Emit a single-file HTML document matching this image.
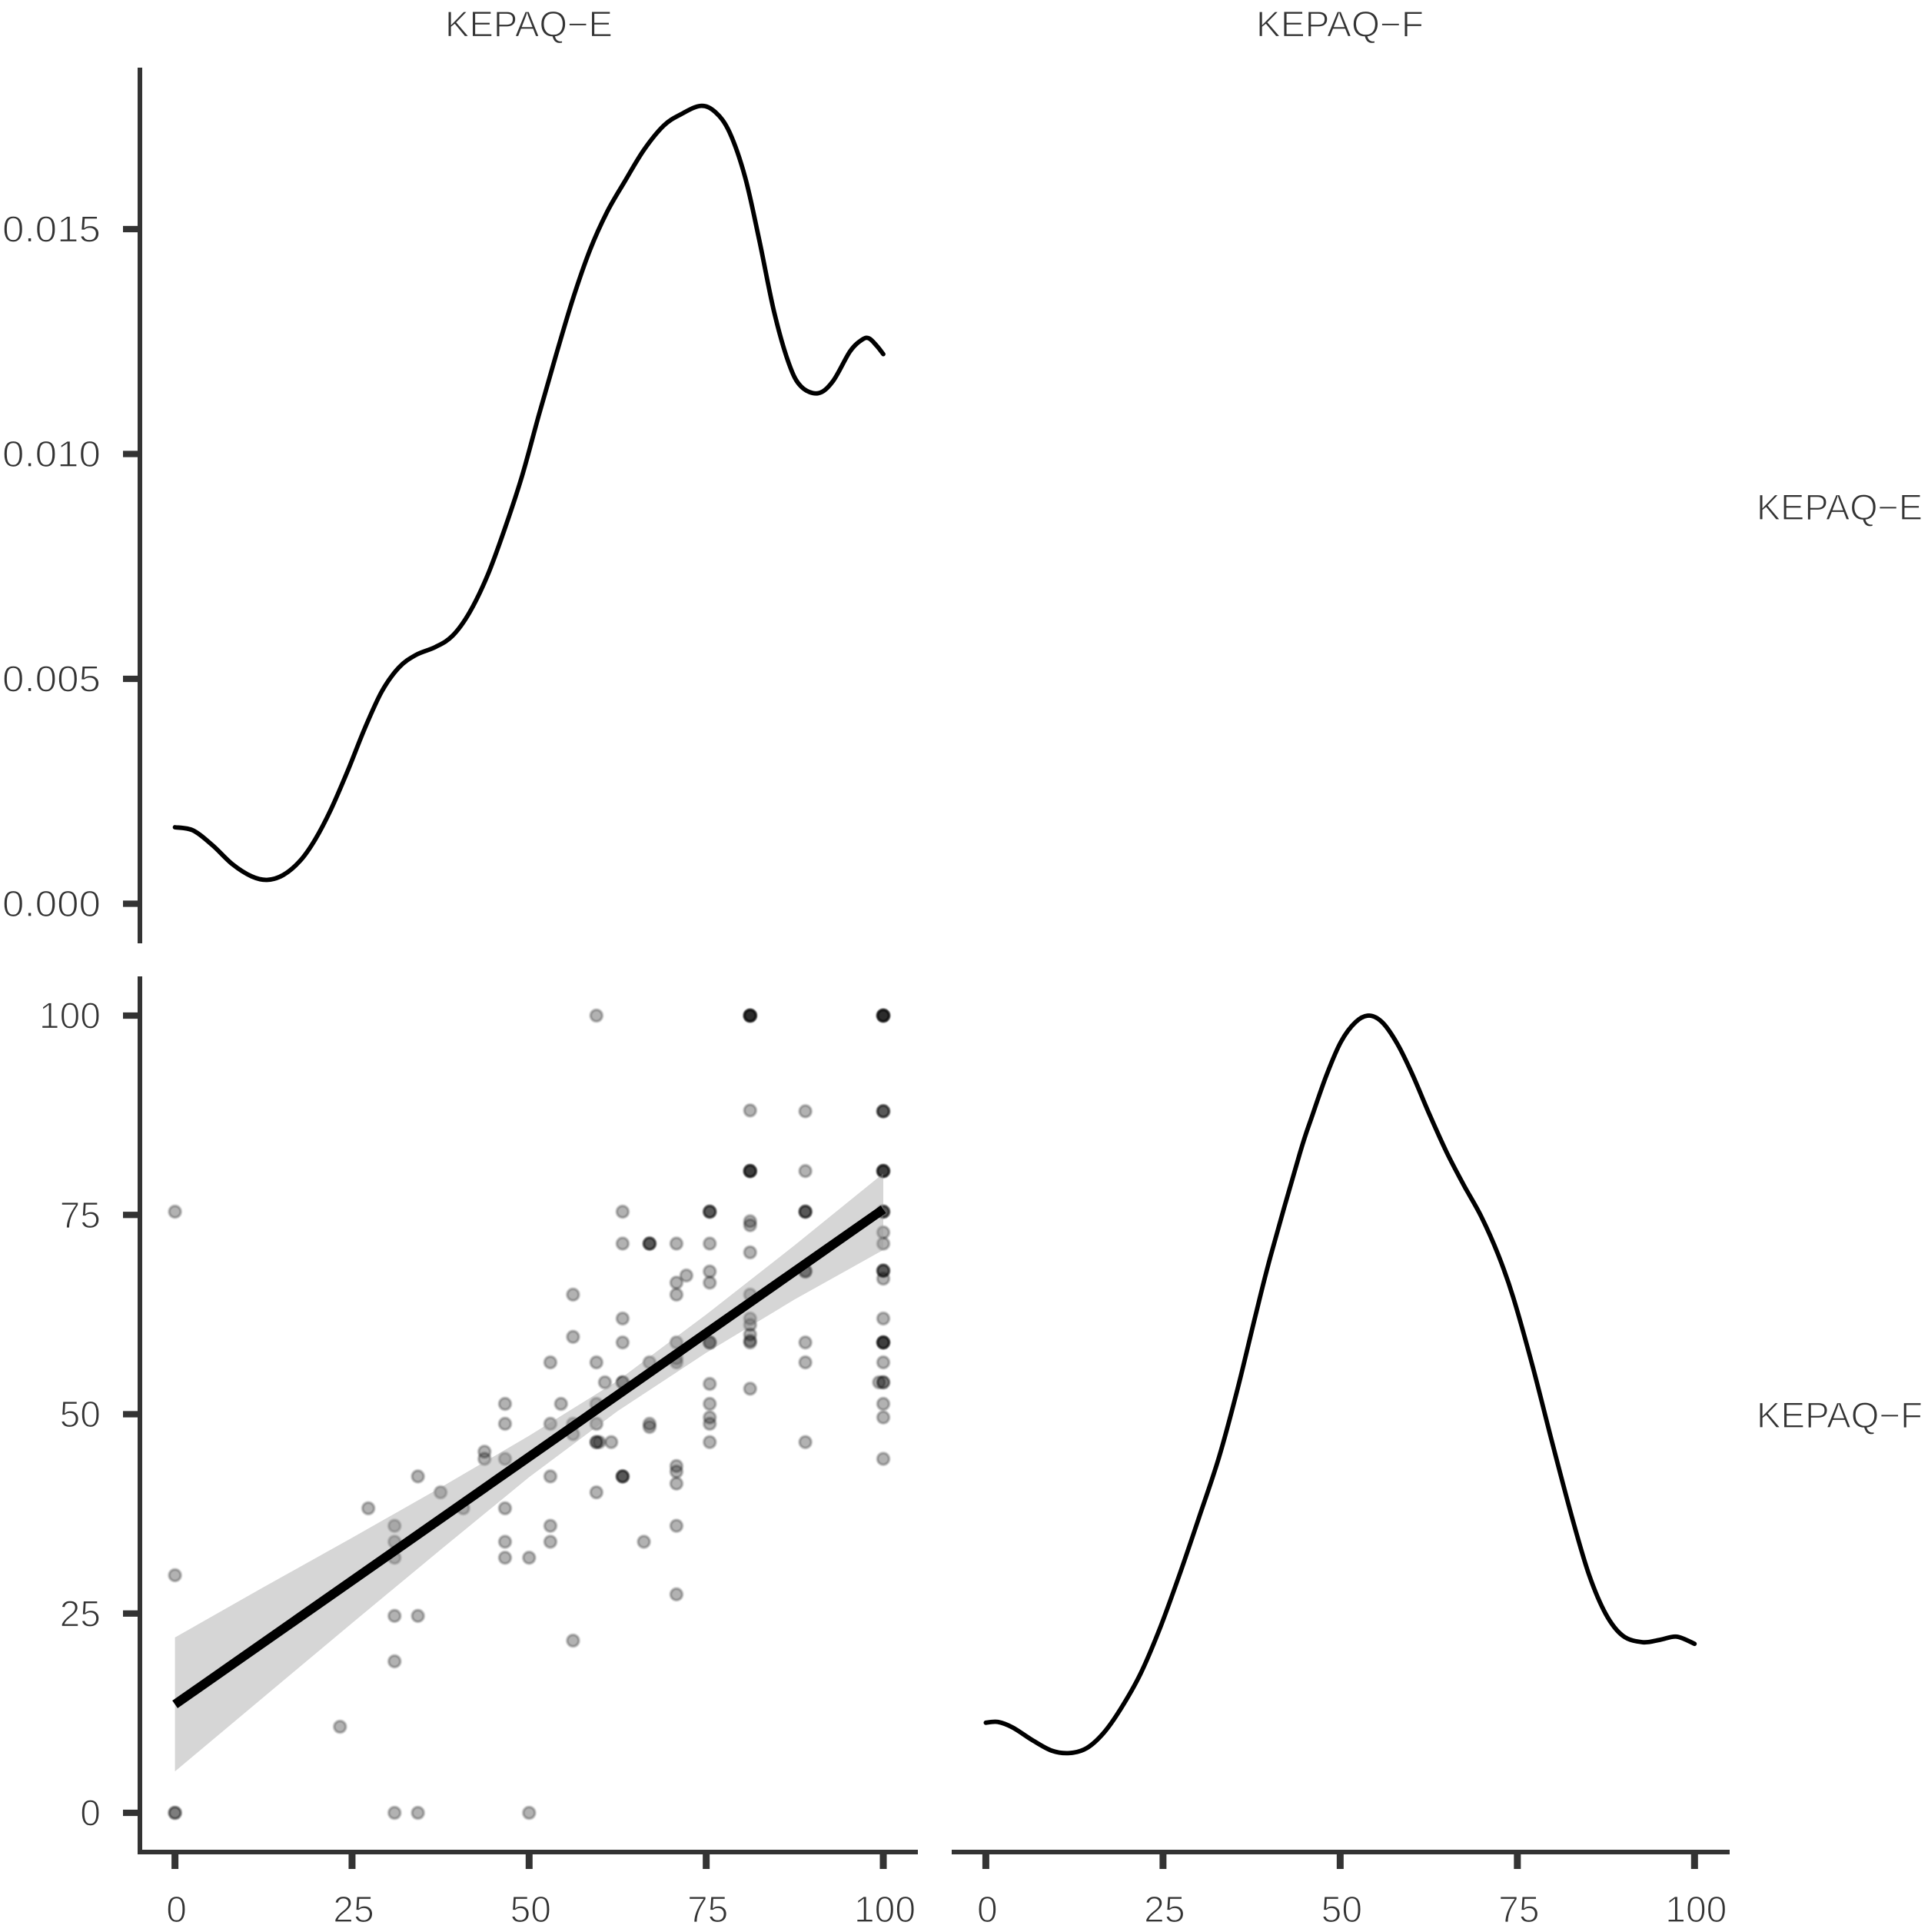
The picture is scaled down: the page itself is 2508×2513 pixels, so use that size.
<!DOCTYPE html>
<html>
<head>
<meta charset="utf-8">
<title>KEPAQ pair plot</title>
<style>
html,body{margin:0;padding:0;background:#fff;}
svg{display:block;}
text{font-family:"Liberation Sans",sans-serif;fill:#333333;stroke:#ffffff;stroke-width:1.3px;}
</style>
</head>
<body>
<svg id="chart" width="2508" height="2513" viewBox="0 0 2508 2513" xmlns="http://www.w3.org/2000/svg">
  <defs><filter id="soft" x="-5%" y="-5%" width="110%" height="110%"><feGaussianBlur stdDeviation="0.7"/></filter></defs>
  <g id="ribbonUnder" filter="url(#soft)"></g>
  <g id="ribbonLayer"></g>
  <g id="densityLayer"></g>
  <g id="axisLayer"></g>
  <g id="labelLayer"></g>
</svg>
<script>
const xTickValues = [0, 25, 50, 75, 100];
const xTickLabels = ["0", "25", "50", "75", "100"];
const densityTickValues = [0, 0.005, 0.010, 0.015];
const densityTickLabels = ["0.000", "0.005", "0.010", "0.015"];
const scatterTickValues = [0, 25, 50, 75, 100];
const scatterTickLabels = ["0", "25", "50", "75", "100"];
const stripLabels = ["KEPAQ\u2212E", "KEPAQ\u2212F"];

const densityEX = [0,2.55,5.3,8.1,10.8,13,15.3,17.7,19.8,22,24.4,26.8,29.2,31.6,34,36.8,39.2,41.6,44.1,46.5,49,51.4,53.8,56.2,58.6,61,63.5,66.2,69,71.4,74.2,76.3,78.3,80.5,82.5,84.6,86.7,88.4,90.8,92.9,95.3,97,98,99.1,100];
const densityEY = [.00170,.00163,.00130,.00088,.00061,.00053,.00064,.00096,.00143,.00209,.00296,.00390,.00472,.00525,.00553,.00571,.00596,.00648,.00729,.00831,.00951,.01088,.01220,.01346,.01454,.01538,.01606,.01676,.01730,.01755,.01774,.01760,.01715,.01615,.01475,.01315,.01200,.01150,.01135,.01162,.01228,.01254,.01257,.01240,.01222];

const densityFX = [0,1.7,3.8,6.6,9.3,11.8,14.2,16.6,19,21.8,24.5,27.3,30.1,32.9,35.5,38,40.2,44.3,46,48.1,50.1,52.2,54.1,56,58.1,60.2,62.6,65,67.4,69.9,72.3,74.4,77.1,79.9,82.7,85.1,87.5,89.9,92.7,95.1,97.5,100];
const densityFY = [11.3,11.4,10.7,9.1,7.8,7.5,8.1,10,13,17.4,23,29.8,37.1,44.6,53.1,62.2,69.9,82.7,87.3,92.6,96.7,99.2,100,99.1,96.4,92.6,87.6,82.9,78.8,74.8,70,64.7,56.2,46.5,37.1,29.9,24.9,22.2,21.4,21.7,22.1,21.2];

const fitX = [0, 100];
const fitY = [13.6, 75.7];
const bandX = [0,12.5,25,37.5,50,62.5,75,87.5,100];
const bandUpper = [22,28.3,34.5,40.8,47.3,54.2,62.5,71.2,80.2];
const bandLower = [5.2,14.5,23.8,33,42.1,50.4,57.7,64.4,70.6];

const pointsE = [0,0,0,0,23.3,27.3,31,31,31,31,31,31,34.3,34.3,34.3,37.5,40.7,43.7,43.7,46.6,46.6,46.6,46.6,46.6,46.6,50,50,53,53,53,53,53,54.5,56.2,56.2,56.2,56.2,56.2,59.5,59.5,59.5,59.5,59.5,59.5,59.5,59.9,60.7,61.6,63.2,63.2,63.2,63.2,63.2,63.2,63.2,63.2,63.2,66.2,67,67,67,67,67,67,70.8,70.8,70.8,70.8,70.8,70.8,70.8,70.8,70.8,70.8,70.8,72.2,75.5,75.5,75.5,75.5,75.5,75.5,75.5,75.5,75.5,75.5,75.5,75.5,75.5,75.5,81.2,81.2,81.2,81.2,81.2,81.2,81.2,81.2,81.2,81.2,81.2,81.2,81.2,81.2,81.2,81.2,81.2,81.2,81.2,81.2,89,89,89,89,89,89,89,89,89,89,89,100,100,100,100,100,100,100,100,100,100,100,100,100,100,100,100,100,100,100,100,100,100,100,100,100,100,99.4,100,100,100,100,100,100,100,100];
const pointsF = [75.4,29.8,0,0,10.8,38.2,36,34,32,24.7,19,0,42.2,24.7,0,40.2,38.2,45.3,44.4,51.3,48.8,44.4,38.2,34,32,32,0,56.5,48.8,42.2,36,34,51.3,65,59.7,48.8,47.5,21.6,100,56.5,51.3,48.8,46.5,46.5,40.2,46.5,54,46.5,75.4,71.4,62,59,54,54,42.2,42.2,42.2,34,71.4,71.4,71.4,56.5,48.8,48.4,71.4,66.5,65,59,56.5,57,43.5,42.8,41.3,36,27.4,67.4,75.4,75.4,75.4,71.4,67.9,66.5,59,59,59,53.8,51.3,49.6,48.8,46.5,100,100,100,100,100,88.1,80.5,80.5,80.5,80.5,74.2,73.7,70.3,65,62,61.2,60,59,59.2,53.2,88,80.5,75.4,75.4,75.4,67.9,67.9,59,56.5,46.5,68,100,100,100,100,100,88,88,88,80.5,80.5,80.5,80.5,75.4,75.4,75.4,72.8,71.4,68,68,68,67,62,59,59,59,56.5,54,54,54,51.3,49.6,44.4,59];

const NS = "http://www.w3.org/2000/svg";
function xE(v){ return 227.6 + v * 9.214; }
function xF(v){ return 1282.4 + v * 9.219; }
function yDensity(v){ return 1175.5 - v * 58500; }
function yScatter(v){ return 2358 - v * 10.37; }

function make(tag, parent, attrs){
  const el = document.createElementNS(NS, tag);
  for (const k in attrs) el.setAttribute(k, attrs[k]);
  parent.appendChild(el);
  return el;
}
function smoothPath(pts){
  let d = "M" + pts[0][0].toFixed(2) + " " + pts[0][1].toFixed(2);
  for (let i = 0; i < pts.length - 1; i++){
    const p0 = pts[Math.max(i - 1, 0)], p1 = pts[i], p2 = pts[i + 1], p3 = pts[Math.min(i + 2, pts.length - 1)];
    const c1x = p1[0] + (p2[0] - p0[0]) / 6, c1y = p1[1] + (p2[1] - p0[1]) / 6;
    const c2x = p2[0] - (p3[0] - p1[0]) / 6, c2y = p2[1] - (p3[1] - p1[1]) / 6;
    d += "C" + c1x.toFixed(2) + " " + c1y.toFixed(2) + " " + c2x.toFixed(2) + " " + c2y.toFixed(2) + " " + p2[0].toFixed(2) + " " + p2[1].toFixed(2);
  }
  return d;
}

const pointLayer = document.getElementById("ribbonUnder");
const ribbonLayer = document.getElementById("ribbonLayer");
const densityLayer = document.getElementById("densityLayer");
const axisLayer = document.getElementById("axisLayer");
const labelLayer = document.getElementById("labelLayer");

/* scatter points */
const pointCount = Math.min(pointsE.length, pointsF.length);
for (let i = 0; i < pointCount; i++){
  const c = make("circle", pointLayer, {cx: xE(pointsE[i]).toFixed(2), cy: yScatter(pointsF[i]).toFixed(2), r: 7.6, fill: "rgba(0,0,0,0.3)", stroke: "rgba(0,0,0,0.25)", "stroke-width": 3.4});
  
  
}

/* confidence band */
const upperPts = bandX.map((x, i) => [xE(x), yScatter(bandUpper[i])]);
const lowerPts = bandX.map((x, i) => [xE(x), yScatter(bandLower[i])]).reverse();
const bandPath = make("path", ribbonLayer, {d: "M" + upperPts.concat(lowerPts).map(p => p[0].toFixed(2) + " " + p[1].toFixed(2)).join("L") + "Z", fill: "#999999", "fill-opacity": 0.4});



/* regression line */
const fitLine = make("line", ribbonLayer, {x1: xE(fitX[0]), y1: yScatter(fitY[0]), x2: xE(fitX[1]), y2: yScatter(fitY[1]), stroke: "#000", "stroke-width": 12});



/* density curves */
const densE = make("path", densityLayer, {d: smoothPath(densityEX.map((x, i) => [xE(x), yDensity(densityEY[i])])), fill: "none", stroke: "#000", "stroke-width": 5.8, "stroke-linecap": "round"});


const densF = make("path", densityLayer, {d: smoothPath(densityFX.map((x, i) => [xF(x), yScatter(densityFY[i])])), fill: "none", stroke: "#000", "stroke-width": 5.8, "stroke-linecap": "round"});



/* axis lines */
const AX = "#333333";
const axisTop = make("line", axisLayer, {x1: 182, y1: 88, x2: 182, y2: 1227, stroke: AX, "stroke-width": 6});


const axisLeft = make("line", axisLayer, {x1: 182, y1: 1270, x2: 182, y2: 2412, stroke: AX, "stroke-width": 6});


const axisBottomE = make("line", axisLayer, {x1: 179, y1: 2409, x2: 1194, y2: 2409, stroke: AX, "stroke-width": 6});


const axisBottomF = make("line", axisLayer, {x1: 1238, y1: 2409, x2: 2250, y2: 2409, stroke: AX, "stroke-width": 6});



/* x ticks + labels */
xTickValues.forEach((v, i) => {
  const t1 = make("line", axisLayer, {x1: xE(v), y1: 2409, x2: xE(v), y2: 2431, stroke: AX, "stroke-width": 9});
  
  
  const l1 = make("text", labelLayer, {x: xE(v) + 2, y: 2500, "text-anchor": "middle", "font-size": 48});
  l1.textContent = xTickLabels[i];
  
  
  const t2 = make("line", axisLayer, {x1: xF(v), y1: 2409, x2: xF(v), y2: 2431, stroke: AX, "stroke-width": 9});
  
  
  const l2 = make("text", labelLayer, {x: xF(v) + 2, y: 2500, "text-anchor": "middle", "font-size": 48});
  l2.textContent = xTickLabels[i];
  
  
});

/* density y ticks + labels */
densityTickValues.forEach((v, i) => {
  const t = make("line", axisLayer, {x1: 160, y1: yDensity(v), x2: 182, y2: yDensity(v), stroke: AX, "stroke-width": 8.3});
  
  
  const l = make("text", labelLayer, {x: 131, y: yDensity(v) + 16.5, "text-anchor": "end", "font-size": 48, textLength: 128, lengthAdjust: "spacingAndGlyphs"});
  l.textContent = densityTickLabels[i];
  
  
});

/* scatter y ticks + labels */
scatterTickValues.forEach((v, i) => {
  const t = make("line", axisLayer, {x1: 160, y1: yScatter(v), x2: 182, y2: yScatter(v), stroke: AX, "stroke-width": 8.3});
  
  
  const l = make("text", labelLayer, {x: 131, y: yScatter(v) + 16.5, "text-anchor": "end", "font-size": 48});
  l.textContent = scatterTickLabels[i];
  
  
});

/* strip labels */
const stripTopE = make("text", labelLayer, {x: 579, y: 47.5, "font-size": 47, textLength: 218, lengthAdjust: "spacingAndGlyphs"});
stripTopE.textContent = stripLabels[0];


const stripTopF = make("text", labelLayer, {x: 1634, y: 47.5, "font-size": 47, textLength: 218, lengthAdjust: "spacingAndGlyphs"});
stripTopF.textContent = stripLabels[1];


const stripRightE = make("text", labelLayer, {x: 2285, y: 676, "font-size": 47, textLength: 216, lengthAdjust: "spacingAndGlyphs"});
stripRightE.textContent = stripLabels[0];


const stripRightF = make("text", labelLayer, {x: 2285, y: 1857, "font-size": 47, textLength: 216, lengthAdjust: "spacingAndGlyphs"});
stripRightF.textContent = stripLabels[1];


</script>
</body>
</html>
